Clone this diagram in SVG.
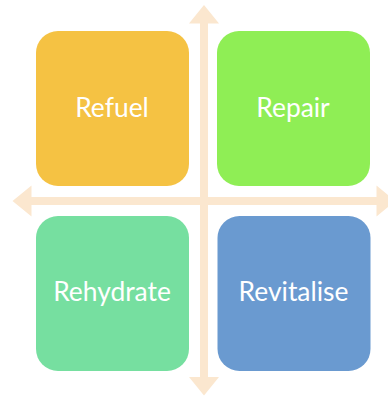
<svg xmlns="http://www.w3.org/2000/svg" width="388" height="396" viewBox="0 0 388 396">
<style>
.ax{fill:#FBE7CF}
.box{stroke:none}
.lbl{font-family:Lato,"Open Sans","Liberation Sans",sans-serif;font-size:26.4px;fill:#FFFFFF;text-anchor:middle}
</style>
<rect width="388" height="396" fill="#FFFFFF"/>
<g id="connectors">
<polygon class="ax" points="204,5 219,23.5 208,23.5 208,377 219,377 204,395.5 189,377 200,377 200,23.5 189,23.5"/>
<polygon class="ax" points="12.5,201 31.5,185.5 31.5,197 376.5,197 376.5,185.5 395.5,201 376.5,216.5 376.5,205 31.5,205 31.5,216.5"/>
</g>
<g id="refuel">
<rect class="box" x="36" y="31" width="153" height="155" rx="22" fill="#F5C243"/>
<text class="lbl" x="112" y="116.5">Refuel</text>
</g>
<g id="repair">
<rect class="box" x="217" y="31" width="153" height="155" rx="22" fill="#8FEE55"/>
<text class="lbl" x="293" y="116.5">Repair</text>
</g>
<g id="rehydrate">
<rect class="box" x="36" y="216" width="153" height="155" rx="22" fill="#76DFA0"/>
<text class="lbl" x="112" y="300.5">Rehydrate</text>
</g>
<g id="revitalise">
<rect class="box" x="217.5" y="216" width="153" height="155" rx="22" fill="#6A9AD0"/>
<text class="lbl" x="293.5" y="300.5">Revitalise</text>
</g>
</svg>
